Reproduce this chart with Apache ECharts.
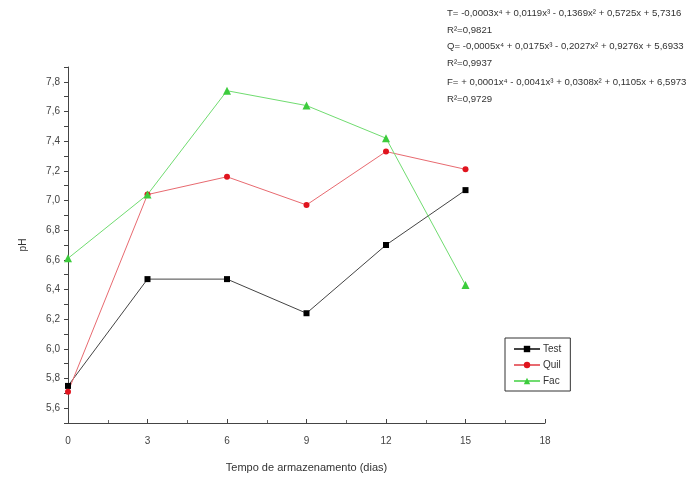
<!DOCTYPE html>
<html>
<head>
<meta charset="utf-8">
<script src="https://cdn.jsdelivr.net/npm/echarts@6/dist/echarts.min.js"></script>
<style>
  html, body { margin: 0; padding: 0; background: #fff; }
  #chart { width: 689px; height: 479px; }
</style>
</head>
<body>
<div id="chart"></div>
<script>
// dias de armazenamento
const dias = [0, 3, 6, 9, 12, 15]
const test = [5.75, 6.47, 6.47, 6.24, 6.70, 7.07]
const quil = [5.71, 7.04, 7.16, 6.97, 7.33, 7.21]
const fac = [6.61, 7.04, 7.74, 7.64, 7.42, 6.43]
const equacoes = [
  'T= -0,0003x\u2074 + 0,0119x\u00b3 - 0,1369x\u00b2 + 0,5725x + 5,7316',
  'R\u00b2=0,9821',
  'Q= -0,0005x\u2074 + 0,0175x\u00b3 - 0,2027x\u00b2 + 0,9276x + 5,6933',
  'R\u00b2=0,9937',
  'F= + 0,0001x\u2074 - 0,0041x\u00b3 + 0,0308x\u00b2 + 0,1105x + 6,5973',
  'R\u00b2=0,9729'
]
const eqY = [14, 31, 47, 64, 83, 100]

const chart = echarts.init(document.getElementById('chart'))

function pares(ys) {
  return dias.map((d, i) => [d, ys[i]])
}

const fonte = 'Liberation Sans, Arial, sans-serif'

chart.setOption({
  backgroundColor: '#fff',
  animation: false,
  grid: {
    left: 68,
    right: 144,
    top: 67,
    bottom: 56
  },
  legend: {
    orient: 'vertical',
    left: 505,
    top: 338,
    width: 68,
    borderColor: '#333',
    borderWidth: 1,
    padding: [6, 9, 5, 8],
    itemGap: 6,
    itemWidth: 26,
    itemHeight: 8,
    textStyle: { fontFamily: fonte, fontSize: 10, color: '#333', padding: [0, 0, 0, -2] },
    data: ['Test', 'Quil', 'Fac']
  },
  xAxis: {
    type: 'value',
    min: 0,
    max: 18,
    interval: 3,
    name: 'Tempo de armazenamento (dias)',
    nameLocation: 'middle',
    nameGap: 39,
    nameTextStyle: { fontFamily: fonte, fontSize: 11, color: '#333' },
    axisLine: { show: true, lineStyle: { color: '#444', width: 1 } },
    axisTick: { show: true, inside: true, length: 4, lineStyle: { color: '#444' } },
    minorTick: { show: true, splitNumber: 2, length: 3, lineStyle: { color: '#666' } },
    axisLabel: { fontFamily: fonte, fontSize: 10, color: '#444', margin: 13 },
    splitLine: { show: false }
  },
  yAxis: {
    type: 'value',
    min: 5.5,
    max: 7.9,
    interval: 0.1,
    name: 'pH',
    nameLocation: 'middle',
    nameGap: 40,
    nameTextStyle: { fontFamily: fonte, fontSize: 10, color: '#333' },
    axisLine: { show: true, lineStyle: { color: '#444', width: 1 } },
    axisTick: { show: true, length: 4, lineStyle: { color: '#444' } },
    axisLabel: {
      fontFamily: fonte,
      fontSize: 10,
      color: '#444',
      margin: 8,
      formatter: function(v) {
        const d = Math.round(v * 10)
        if (d % 2 !== 0) return ''
        return (d / 10).toFixed(1).replace('.', ',')
      }
    },
    splitLine: { show: false }
  },
  graphic: equacoes.map((t, i) => ({
    type: 'text',
    left: 447,
    top: eqY[i] - 6,
    style: { text: t, fontFamily: fonte, fontSize: 9.6, fill: '#333' }
  })),
  series: [
    {
      name: 'Test',
      type: 'line',
      data: pares(test),
      symbol: 'rect',
      symbolSize: 6,
      itemStyle: { color: '#000' },
      lineStyle: { color: '#444', width: 1 }
    },
    {
      name: 'Quil',
      type: 'line',
      data: pares(quil),
      symbol: 'circle',
      symbolSize: 6,
      itemStyle: { color: '#e0141e' },
      lineStyle: { color: '#e86a70', width: 1 }
    },
    {
      name: 'Fac',
      type: 'line',
      data: pares(fac),
      symbol: 'triangle',
      symbolSize: 8,
      itemStyle: { color: '#3ccc3c' },
      lineStyle: { color: '#70dc70', width: 1 }
    }
  ]
})
</script>
</body>
</html>
